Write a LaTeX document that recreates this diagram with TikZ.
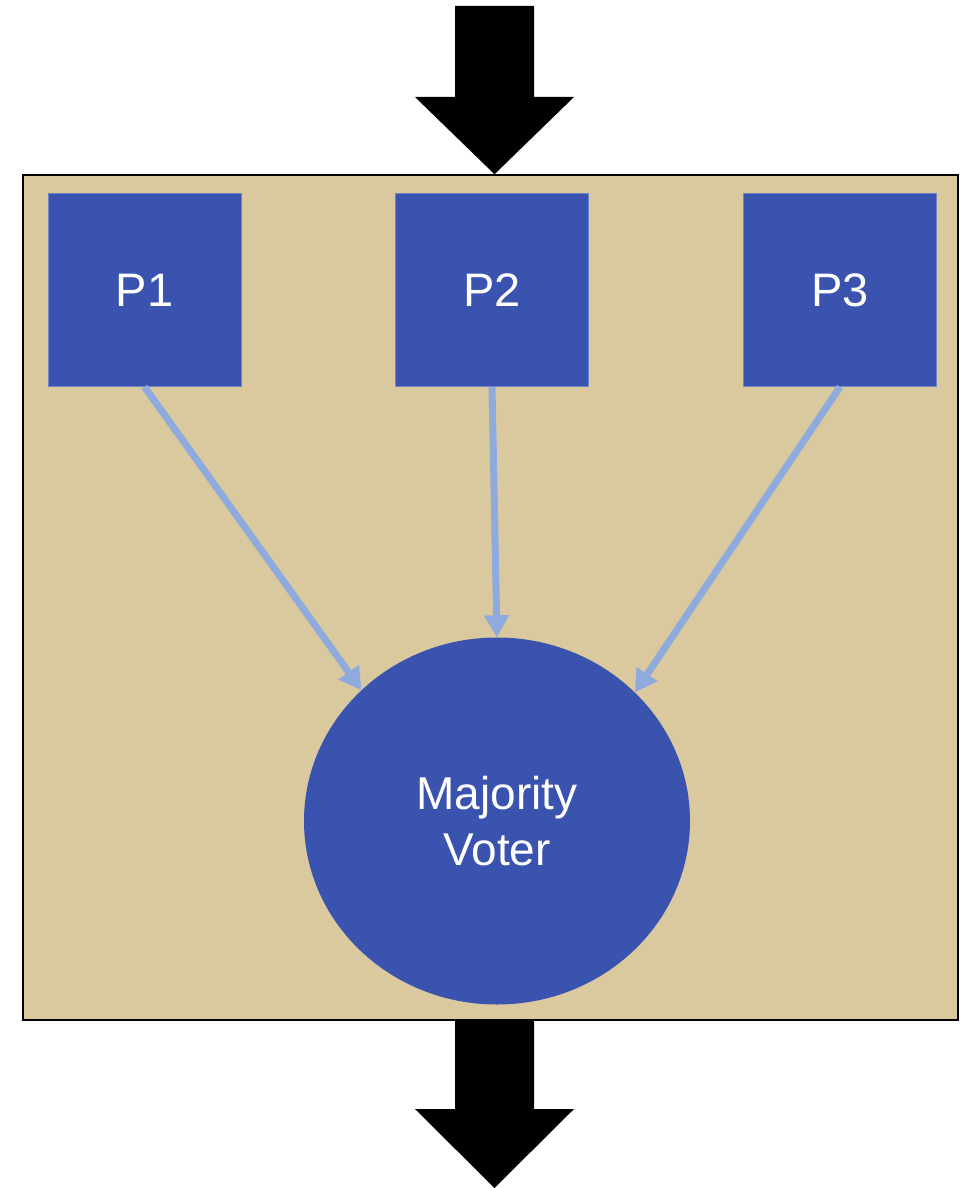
\documentclass[tikz,border=0pt]{standalone}
\usepackage{fontspec}
\setmainfont{Liberation Sans}
\usetikzlibrary{arrows.meta,shapes.geometric}
\definecolor{tan}{HTML}{DAC99E}
\definecolor{procblue}{HTML}{3A53AE}
\definecolor{procedge}{HTML}{6F84C9}
\definecolor{linkblue}{HTML}{8FAADC}
\tikzset{
  proc/.style={rectangle, fill=procblue, draw=procedge, line width=0.8pt,
    minimum width=193pt, minimum height=193pt, inner sep=0pt,
    text=white, font=\fontsize{47}{54}\selectfont},
  voter/.style={ellipse, fill=procblue, draw=none,
    minimum width=386pt, minimum height=367pt, inner sep=0pt,
    text=white, align=center, font=\fontsize{46}{56}\selectfont},
  link/.style={draw=linkblue, line width=7pt,
    -{Triangle[length=22pt,width=24pt]}},
  bigarrow/.style={fill=black, draw=none}
}
\begin{document}
\begin{tikzpicture}[x=1pt,y=-1pt]
  \useasboundingbox (0,0) rectangle (966,1188);

  % enclosing system box
  \node[rectangle, fill=tan, draw=black, line width=1.5pt, inner sep=0pt,
        minimum width=935pt, minimum height=845pt] (sys) at (490.5,597.5) {};

  % input arrow
  \fill[bigarrow] (455,6) -- (534,6) -- (534,97) -- (574,97)
        -- (sys.north -| 494.5,0) -- (415,97) -- (455,97) -- cycle;
  % output arrow
  \fill[bigarrow] (455,1020) -- (534,1020) -- (534,1109) -- (574,1109)
        -- (494.5,1188) -- (415,1109) -- (455,1109) -- cycle;

  % processors
  \node[proc] (p1) at (144.5,290) {P1};
  \node[proc] (p2) at (492,290) {P2};
  \node[proc] (p3) at (840,290) {P3};

  % voter
  \node[voter] (mv) at (497,821) {Majority\\Voter};

  % connections
  \draw[link] (p1.south) -- (mv.136.5);
  \draw[link] (p2.south) -- (mv.north);
  \draw[link] (p3.south) -- (mv.43.7);
\end{tikzpicture}
\end{document}
